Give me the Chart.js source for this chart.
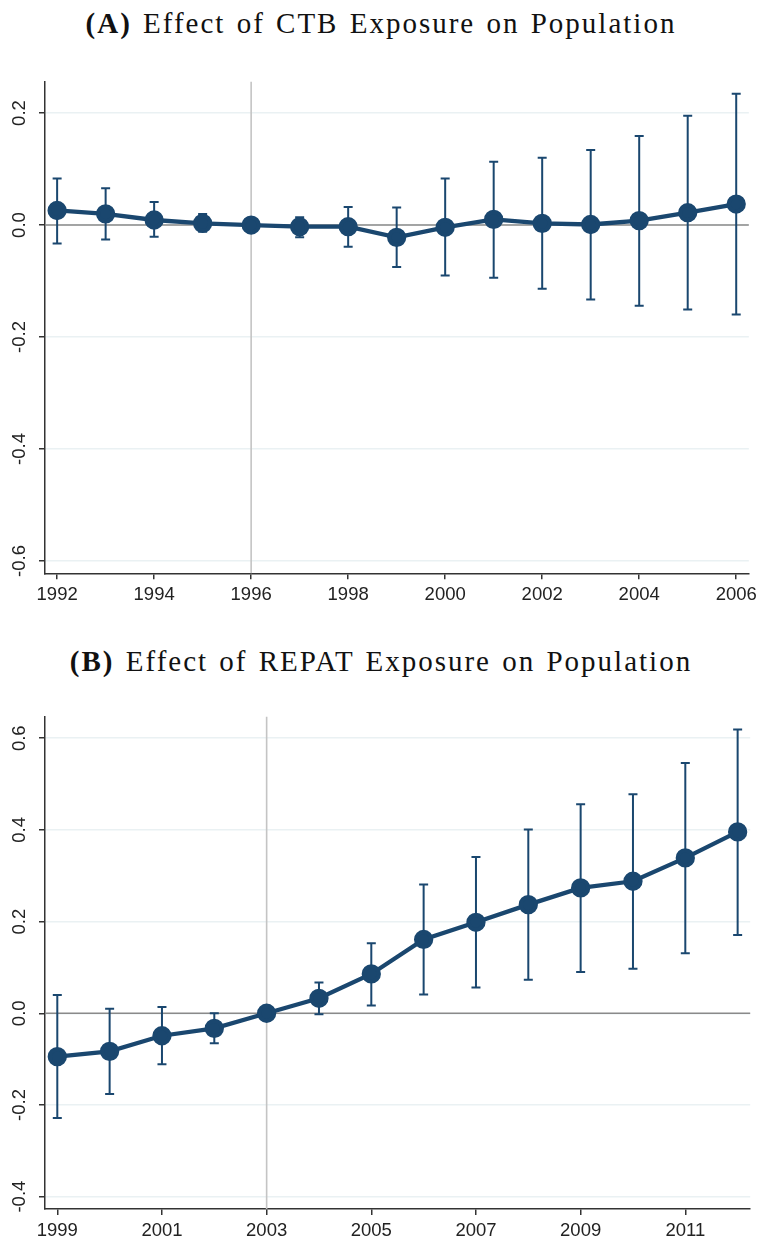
<!DOCTYPE html>
<html>
<head>
<meta charset="utf-8">
<script src="https://cdn.jsdelivr.net/npm/chart.js@4"></script>
<style>
  body { margin: 0; background: #fff; width: 762px; height: 1241px; position: relative; overflow: hidden; }
  .title { position: absolute; left: 0; width: 762px; text-align: center; font-family: "Liberation Serif", serif; font-size: 29px; line-height: 1; letter-spacing: 2px; word-spacing: 2px; color: #111; }
  .box { position: absolute; left: 0; width: 762px; }
</style>
</head>
<body>
<div class="title" style="top:9px"><b>(A)</b> Effect of CTB Exposure on Population</div>
<div class="box" style="top:60px;height:560px"><canvas id="chartA"></canvas></div>
<div class="title" style="top:647px"><b>(B)</b> Effect of REPAT Exposure on Population</div>
<div class="box" style="top:690px;height:551px"><canvas id="chartB"></canvas></div>
<script>
// panel A: CTB exposure
const yearsA = [1992, 1993, 1994, 1995, 1996, 1997, 1998, 1999, 2000, 2001, 2002, 2003, 2004, 2005, 2006];
const coefA  = [0.026, 0.020, 0.009, 0.003, 0, -0.003, -0.003, -0.022, -0.004, 0.010, 0.003, 0.001, 0.008, 0.022, 0.0375];
const lowerA = [-0.033, -0.026, -0.021, -0.012, null, -0.022, -0.039, -0.075, -0.090, -0.094, -0.114, -0.133, -0.144, -0.151, -0.160];
const upperA = [0.083, 0.0655, 0.041, 0.0196, null, 0.014, 0.032, 0.0315, 0.083, 0.113, 0.120, 0.134, 0.159, 0.195, 0.2345];
const xTicksA = [1992, 1994, 1996, 1998, 2000, 2002, 2004, 2006];
const yTicksA = [-0.6, -0.4, -0.2, 0, 0.2];

// panel B: REPAT exposure
const yearsB = [1999, 2000, 2001, 2002, 2003, 2004, 2005, 2006, 2007, 2008, 2009, 2010, 2011, 2012];
const coefB  = [-0.0946, -0.083, -0.049, -0.033, 0, 0.0327, 0.0858, 0.161, 0.1985, 0.237, 0.2735, 0.288, 0.339, 0.3956];
const lowerB = [-0.2285, -0.176, -0.111, -0.0655, null, -0.002, 0.017, 0.041, 0.056, 0.073, 0.090, 0.097, 0.131, 0.171];
const upperB = [0.040, 0.010, 0.0138, 0.0, null, 0.067, 0.153, 0.281, 0.341, 0.401, 0.456, 0.478, 0.546, 0.619];
const xTicksB = [1999, 2001, 2003, 2005, 2007, 2009, 2011];
const yTicksB = [-0.4, -0.2, 0, 0.2, 0.4, 0.6];

const navy = "#1a476f";
const tickFont = { family: "'Liberation Sans', Arial, sans-serif", size: 18.5 };

// reference lines + confidence intervals, drawn under the line
const ciPlugin = {
  id: "ci",
  beforeDatasetsDraw(chart, args, opts) {
    const { ctx, chartArea, scales: { x, y } } = chart;
    ctx.save();
    ctx.lineWidth = 1.6;
    ctx.strokeStyle = "#c4c4c4";
    const vx = x.getPixelForValue(opts.eventYear);
    ctx.beginPath(); ctx.moveTo(vx, chartArea.top); ctx.lineTo(vx, chartArea.bottom); ctx.stroke();
    ctx.strokeStyle = "#8a8a8a";
    const hy = y.getPixelForValue(0);
    ctx.beginPath(); ctx.moveTo(chartArea.left, hy); ctx.lineTo(chartArea.right, hy); ctx.stroke();

    ctx.strokeStyle = navy;
    ctx.lineWidth = 2;
    opts.years.forEach((yr, i) => {
      if (opts.lower[i] == null) return;
      const px = x.getPixelForValue(yr);
      const lo = y.getPixelForValue(opts.lower[i]);
      const hi = y.getPixelForValue(opts.upper[i]);
      ctx.beginPath();
      ctx.moveTo(px, lo); ctx.lineTo(px, hi);
      ctx.moveTo(px - 4.5, lo); ctx.lineTo(px + 4.5, lo);
      ctx.moveTo(px - 4.5, hi); ctx.lineTo(px + 4.5, hi);
      ctx.stroke();
    });
    ctx.restore();
  }
};

function makeChart(id, years, coef, lower, upper, xTicks, yTicks, xr, yr, eventYear, padTop, xH) {
  new Chart(document.getElementById(id), {
    type: "scatter",
    data: {
      datasets: [{
        data: years.map((yr, i) => ({ x: yr, y: coef[i] })),
        showLine: true,
        borderColor: navy,
        borderWidth: 4.3,
        backgroundColor: navy,
        pointRadius: 7.5,
        pointHoverRadius: 7.5
      }]
    },
    options: {
      responsive: true,
      maintainAspectRatio: false,
      animation: false,
      events: [],
      layout: { padding: { top: padTop, right: 11, left: 0, bottom: 0 } },
      plugins: {
        legend: { display: false },
        tooltip: { enabled: false },
        ci: { years, lower, upper, eventYear }
      },
      scales: {
        x: {
          type: "linear", min: xr[0], max: xr[1],
          afterBuildTicks: s => { s.ticks = xTicks.map(v => ({ value: v })); },
          afterFit: s => { s.height = xH; },
          grid: { drawOnChartArea: false, drawTicks: true, tickLength: 6, tickColor: "#333", lineWidth: 1.5 },
          border: { color: "#333", width: 1.5 },
          ticks: { font: tickFont, color: "#222", padding: 5, maxRotation: 0, autoSkip: false, callback: v => String(v) }
        },
        y: {
          type: "linear", min: yr[0], max: yr[1],
          afterBuildTicks: s => { s.ticks = yTicks.map(v => ({ value: v })); },
          afterFit: s => { s.width = 45; },
          grid: { color: "#eaf1f3", lineWidth: 1.5, tickLength: 6, tickColor: "#333" },
          border: { color: "#333", width: 1.5 },
          ticks: { font: tickFont, color: "#222", padding: 3.5, crossAlign: "center", minRotation: 90, maxRotation: 90, callback: v => v.toFixed(1) }
        }
      }
    },
    plugins: [ciPlugin]
  });
}

makeChart("chartA", yearsA, coefA, lowerA, upperA, xTicksA, yTicksA, [1991.75, 2006.26], [-0.622, 0.256], 1996, 21.7, 46.7);
makeChart("chartB", yearsB, coefB, lowerB, upperB, xTicksB, yTicksB, [1998.765, 2012.24], [-0.427, 0.647], 2003, 26.7, 32);
</script>
</body>
</html>
